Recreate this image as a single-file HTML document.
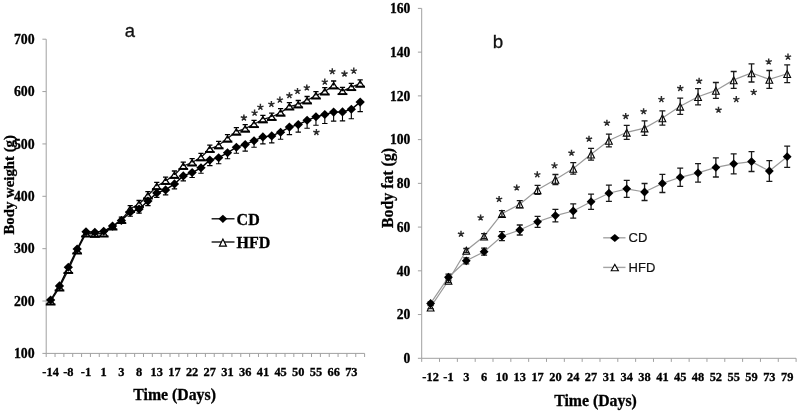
<!DOCTYPE html>
<html><head><meta charset="utf-8"><title>Figure</title>
<style>
html,body{margin:0;padding:0;background:#fff;}
body{width:800px;height:414px;position:relative;overflow:hidden;font-family:"Liberation Sans",sans-serif;}
</style></head><body>
<svg width="800" height="414" viewBox="0 0 800 414" style="position:absolute;left:0;top:0;filter:blur(0.35px)">
<rect width="800" height="414" fill="#fff"/>
<g stroke="#a0a0a0" stroke-width="1" fill="none">
<path d="M46.2 39.2V353.4H364.6"/>
<path d="M42.4 39.2H46.2"/>
<path d="M42.4 91.57H46.2"/>
<path d="M42.4 143.93H46.2"/>
<path d="M42.4 196.3H46.2"/>
<path d="M42.4 248.67H46.2"/>
<path d="M42.4 301.03H46.2"/>
<path d="M42.4 353.4H46.2"/>
<path d="M46.2 353.4V357"/>
<path d="M55.04 353.4V357"/>
<path d="M63.89 353.4V357"/>
<path d="M72.73 353.4V357"/>
<path d="M81.58 353.4V357"/>
<path d="M90.42 353.4V357"/>
<path d="M99.27 353.4V357"/>
<path d="M108.11 353.4V357"/>
<path d="M116.96 353.4V357"/>
<path d="M125.8 353.4V357"/>
<path d="M134.64 353.4V357"/>
<path d="M143.49 353.4V357"/>
<path d="M152.33 353.4V357"/>
<path d="M161.18 353.4V357"/>
<path d="M170.02 353.4V357"/>
<path d="M178.87 353.4V357"/>
<path d="M187.71 353.4V357"/>
<path d="M196.56 353.4V357"/>
<path d="M205.4 353.4V357"/>
<path d="M214.24 353.4V357"/>
<path d="M223.09 353.4V357"/>
<path d="M231.93 353.4V357"/>
<path d="M240.78 353.4V357"/>
<path d="M249.62 353.4V357"/>
<path d="M258.47 353.4V357"/>
<path d="M267.31 353.4V357"/>
<path d="M276.16 353.4V357"/>
<path d="M285 353.4V357"/>
<path d="M293.84 353.4V357"/>
<path d="M302.69 353.4V357"/>
<path d="M311.53 353.4V357"/>
<path d="M320.38 353.4V357"/>
<path d="M329.22 353.4V357"/>
<path d="M338.07 353.4V357"/>
<path d="M346.91 353.4V357"/>
<path d="M355.76 353.4V357"/>
<path d="M364.6 353.4V357"/>
</g>
<g font-family="Liberation Serif, serif" font-weight="bold" fill="#000" stroke="#000" stroke-width="0.3">
<text x="34.6" y="43.9" font-size="13.8" text-anchor="end">700</text>
<text x="34.6" y="96.27" font-size="13.8" text-anchor="end">600</text>
<text x="34.6" y="148.63" font-size="13.8" text-anchor="end">500</text>
<text x="34.6" y="201" font-size="13.8" text-anchor="end">400</text>
<text x="34.6" y="253.37" font-size="13.8" text-anchor="end">300</text>
<text x="34.6" y="305.73" font-size="13.8" text-anchor="end">200</text>
<text x="34.6" y="358.1" font-size="13.8" text-anchor="end">100</text>
<text x="50.62" y="376" font-size="12.4" text-anchor="middle">-14</text>
<text x="68.31" y="376" font-size="12.4" text-anchor="middle">-8</text>
<text x="86" y="376" font-size="12.4" text-anchor="middle">-1</text>
<text x="103.69" y="376" font-size="12.4" text-anchor="middle">1</text>
<text x="121.38" y="376" font-size="12.4" text-anchor="middle">3</text>
<text x="139.07" y="376" font-size="12.4" text-anchor="middle">8</text>
<text x="156.76" y="376" font-size="12.4" text-anchor="middle">13</text>
<text x="174.44" y="376" font-size="12.4" text-anchor="middle">17</text>
<text x="192.13" y="376" font-size="12.4" text-anchor="middle">22</text>
<text x="209.82" y="376" font-size="12.4" text-anchor="middle">27</text>
<text x="227.51" y="376" font-size="12.4" text-anchor="middle">31</text>
<text x="245.2" y="376" font-size="12.4" text-anchor="middle">36</text>
<text x="262.89" y="376" font-size="12.4" text-anchor="middle">41</text>
<text x="280.58" y="376" font-size="12.4" text-anchor="middle">45</text>
<text x="298.27" y="376" font-size="12.4" text-anchor="middle">50</text>
<text x="315.96" y="376" font-size="12.4" text-anchor="middle">55</text>
<text x="333.64" y="376" font-size="12.4" text-anchor="middle">66</text>
<text x="351.33" y="376" font-size="12.4" text-anchor="middle">73</text>
<text x="174.6" y="400.2" font-size="15.8" text-anchor="middle">Time (Days)</text>
<text transform="translate(13.9 184.8) rotate(-90)" font-size="14.8" text-anchor="middle">Body weight (g)</text>
</g>
<text x="129.9" y="37.2" font-family="Liberation Sans, sans-serif" font-size="18.4" text-anchor="middle" fill="#111" stroke="#111" stroke-width="0.3">a</text>
<polyline points="50.62,301.5 59.47,287.5 68.31,270 77.16,250.5 86,233.5 94.84,233.8 103.69,233.5 112.53,226.5 121.38,220 130.22,209 139.07,203.9 147.91,195.5 156.76,186.2 165.6,181 174.44,174.9 183.29,166 192.13,162.5 200.98,157.3 209.82,149 218.67,145.3 227.51,138.6 236.36,131.6 245.2,128.6 254.04,124.2 262.89,119.3 271.73,117 280.58,112.6 289.42,106.5 298.27,104.4 307.11,100.4 315.96,95.5 324.8,91.5 333.64,85.4 342.49,91.2 351.33,87.2 360.18,83.7" fill="none" stroke="#111" stroke-width="1.3"/>
<path d="M46.72 304.7L50.62 298.8L54.52 304.7Z" fill="#fff" stroke="#000" stroke-width="1.3" stroke-linejoin="miter"/><path d="M45.82 304.4H55.42" stroke="#000" stroke-width="1.9" fill="none"/>
<path d="M55.57 290.7L59.47 284.8L63.37 290.7Z" fill="#fff" stroke="#000" stroke-width="1.3" stroke-linejoin="miter"/><path d="M54.67 290.4H64.27" stroke="#000" stroke-width="1.9" fill="none"/>
<path d="M64.41 273.2L68.31 267.3L72.21 273.2Z" fill="#fff" stroke="#000" stroke-width="1.3" stroke-linejoin="miter"/><path d="M63.51 272.9H73.11" stroke="#000" stroke-width="1.9" fill="none"/>
<path d="M73.26 253.7L77.16 247.8L81.06 253.7Z" fill="#fff" stroke="#000" stroke-width="1.3" stroke-linejoin="miter"/><path d="M72.36 253.4H81.96" stroke="#000" stroke-width="1.9" fill="none"/>
<path d="M82.1 236.7L86 230.8L89.9 236.7Z" fill="#fff" stroke="#000" stroke-width="1.3" stroke-linejoin="miter"/><path d="M81.2 236.4H90.8" stroke="#000" stroke-width="1.9" fill="none"/>
<path d="M90.94 237L94.84 231.1L98.74 237Z" fill="#fff" stroke="#000" stroke-width="1.3" stroke-linejoin="miter"/><path d="M90.04 236.7H99.64" stroke="#000" stroke-width="1.9" fill="none"/>
<path d="M99.79 236.7L103.69 230.8L107.59 236.7Z" fill="#fff" stroke="#000" stroke-width="1.3" stroke-linejoin="miter"/><path d="M98.89 236.4H108.49" stroke="#000" stroke-width="1.9" fill="none"/>
<path d="M108.63 229.7L112.53 223.8L116.43 229.7Z" fill="#fff" stroke="#000" stroke-width="1.3" stroke-linejoin="miter"/><path d="M107.73 229.4H117.33" stroke="#000" stroke-width="1.9" fill="none"/>
<path d="M117.48 223.2L121.38 217.3L125.28 223.2Z" fill="#fff" stroke="#000" stroke-width="1.3" stroke-linejoin="miter"/><path d="M116.58 222.9H126.18" stroke="#000" stroke-width="1.9" fill="none"/>
<path d="M126.32 212.2L130.22 206.3L134.12 212.2Z" fill="#fff" stroke="#000" stroke-width="1.3" stroke-linejoin="miter"/><path d="M125.42 211.9H135.02" stroke="#000" stroke-width="1.9" fill="none"/>
<path d="M135.17 207.1L139.07 201.2L142.97 207.1Z" fill="#fff" stroke="#000" stroke-width="1.3" stroke-linejoin="miter"/><path d="M134.27 206.8H143.87" stroke="#000" stroke-width="1.9" fill="none"/>
<path d="M144.01 198.7L147.91 192.8L151.81 198.7Z" fill="#fff" stroke="#000" stroke-width="1.3" stroke-linejoin="miter"/><path d="M143.11 198.4H152.71" stroke="#000" stroke-width="1.9" fill="none"/>
<path d="M152.86 189.4L156.76 183.5L160.66 189.4Z" fill="#fff" stroke="#000" stroke-width="1.3" stroke-linejoin="miter"/><path d="M151.96 189.1H161.56" stroke="#000" stroke-width="1.9" fill="none"/>
<path d="M161.7 184.2L165.6 178.3L169.5 184.2Z" fill="#fff" stroke="#000" stroke-width="1.3" stroke-linejoin="miter"/><path d="M160.8 183.9H170.4" stroke="#000" stroke-width="1.9" fill="none"/>
<path d="M170.54 178.1L174.44 172.2L178.34 178.1Z" fill="#fff" stroke="#000" stroke-width="1.3" stroke-linejoin="miter"/><path d="M169.64 177.8H179.24" stroke="#000" stroke-width="1.9" fill="none"/>
<path d="M179.39 169.2L183.29 163.3L187.19 169.2Z" fill="#fff" stroke="#000" stroke-width="1.3" stroke-linejoin="miter"/><path d="M178.49 168.9H188.09" stroke="#000" stroke-width="1.9" fill="none"/>
<path d="M188.23 165.7L192.13 159.8L196.03 165.7Z" fill="#fff" stroke="#000" stroke-width="1.3" stroke-linejoin="miter"/><path d="M187.33 165.4H196.93" stroke="#000" stroke-width="1.9" fill="none"/>
<path d="M197.08 160.5L200.98 154.6L204.88 160.5Z" fill="#fff" stroke="#000" stroke-width="1.3" stroke-linejoin="miter"/><path d="M196.18 160.2H205.78" stroke="#000" stroke-width="1.9" fill="none"/>
<path d="M205.92 152.2L209.82 146.3L213.72 152.2Z" fill="#fff" stroke="#000" stroke-width="1.3" stroke-linejoin="miter"/><path d="M205.02 151.9H214.62" stroke="#000" stroke-width="1.9" fill="none"/>
<path d="M214.77 148.5L218.67 142.6L222.57 148.5Z" fill="#fff" stroke="#000" stroke-width="1.3" stroke-linejoin="miter"/><path d="M213.87 148.2H223.47" stroke="#000" stroke-width="1.9" fill="none"/>
<path d="M223.61 141.8L227.51 135.9L231.41 141.8Z" fill="#fff" stroke="#000" stroke-width="1.3" stroke-linejoin="miter"/><path d="M222.71 141.5H232.31" stroke="#000" stroke-width="1.9" fill="none"/>
<path d="M232.46 134.8L236.36 128.9L240.26 134.8Z" fill="#fff" stroke="#000" stroke-width="1.3" stroke-linejoin="miter"/><path d="M231.56 134.5H241.16" stroke="#000" stroke-width="1.9" fill="none"/>
<path d="M241.3 131.8L245.2 125.9L249.1 131.8Z" fill="#fff" stroke="#000" stroke-width="1.3" stroke-linejoin="miter"/><path d="M240.4 131.5H250" stroke="#000" stroke-width="1.9" fill="none"/>
<path d="M250.14 127.4L254.04 121.5L257.94 127.4Z" fill="#fff" stroke="#000" stroke-width="1.3" stroke-linejoin="miter"/><path d="M249.24 127.1H258.84" stroke="#000" stroke-width="1.9" fill="none"/>
<path d="M258.99 122.5L262.89 116.6L266.79 122.5Z" fill="#fff" stroke="#000" stroke-width="1.3" stroke-linejoin="miter"/><path d="M258.09 122.2H267.69" stroke="#000" stroke-width="1.9" fill="none"/>
<path d="M267.83 120.2L271.73 114.3L275.63 120.2Z" fill="#fff" stroke="#000" stroke-width="1.3" stroke-linejoin="miter"/><path d="M266.93 119.9H276.53" stroke="#000" stroke-width="1.9" fill="none"/>
<path d="M276.68 115.8L280.58 109.9L284.48 115.8Z" fill="#fff" stroke="#000" stroke-width="1.3" stroke-linejoin="miter"/><path d="M275.78 115.5H285.38" stroke="#000" stroke-width="1.9" fill="none"/>
<path d="M285.52 109.7L289.42 103.8L293.32 109.7Z" fill="#fff" stroke="#000" stroke-width="1.3" stroke-linejoin="miter"/><path d="M284.62 109.4H294.22" stroke="#000" stroke-width="1.9" fill="none"/>
<path d="M294.37 107.6L298.27 101.7L302.17 107.6Z" fill="#fff" stroke="#000" stroke-width="1.3" stroke-linejoin="miter"/><path d="M293.47 107.3H303.07" stroke="#000" stroke-width="1.9" fill="none"/>
<path d="M303.21 103.6L307.11 97.7L311.01 103.6Z" fill="#fff" stroke="#000" stroke-width="1.3" stroke-linejoin="miter"/><path d="M302.31 103.3H311.91" stroke="#000" stroke-width="1.9" fill="none"/>
<path d="M312.06 98.7L315.96 92.8L319.86 98.7Z" fill="#fff" stroke="#000" stroke-width="1.3" stroke-linejoin="miter"/><path d="M311.16 98.4H320.76" stroke="#000" stroke-width="1.9" fill="none"/>
<path d="M320.9 94.7L324.8 88.8L328.7 94.7Z" fill="#fff" stroke="#000" stroke-width="1.3" stroke-linejoin="miter"/><path d="M320 94.4H329.6" stroke="#000" stroke-width="1.9" fill="none"/>
<path d="M329.74 88.6L333.64 82.7L337.54 88.6Z" fill="#fff" stroke="#000" stroke-width="1.3" stroke-linejoin="miter"/><path d="M328.84 88.3H338.44" stroke="#000" stroke-width="1.9" fill="none"/>
<path d="M338.59 94.4L342.49 88.5L346.39 94.4Z" fill="#fff" stroke="#000" stroke-width="1.3" stroke-linejoin="miter"/><path d="M337.69 94.1H347.29" stroke="#000" stroke-width="1.9" fill="none"/>
<path d="M347.43 90.4L351.33 84.5L355.23 90.4Z" fill="#fff" stroke="#000" stroke-width="1.3" stroke-linejoin="miter"/><path d="M346.53 90.1H356.13" stroke="#000" stroke-width="1.9" fill="none"/>
<path d="M356.28 86.9L360.18 81L364.08 86.9Z" fill="#fff" stroke="#000" stroke-width="1.3" stroke-linejoin="miter"/><path d="M355.38 86.6H364.98" stroke="#000" stroke-width="1.9" fill="none"/>







<path d="M112.53 224.6V226.5M109.93 224.6H115.13" stroke="#000" stroke-width="1.3" fill="none"/>
<path d="M121.38 217.1V220M118.78 217.1H123.98" stroke="#000" stroke-width="1.3" fill="none"/>
<path d="M130.22 205.6V209M127.62 205.6H132.82" stroke="#000" stroke-width="1.3" fill="none"/>
<path d="M139.07 200.5V203.9M136.47 200.5H141.67" stroke="#000" stroke-width="1.3" fill="none"/>
<path d="M147.91 191.6V195.5M145.31 191.6H150.51" stroke="#000" stroke-width="1.3" fill="none"/>
<path d="M156.76 182.3V186.2M154.16 182.3H159.36" stroke="#000" stroke-width="1.3" fill="none"/>
<path d="M165.6 177.1V181M163 177.1H168.2" stroke="#000" stroke-width="1.3" fill="none"/>
<path d="M174.44 171V174.9M171.84 171H177.04" stroke="#000" stroke-width="1.3" fill="none"/>
<path d="M183.29 162.1V166M180.69 162.1H185.89" stroke="#000" stroke-width="1.3" fill="none"/>
<path d="M192.13 158.6V162.5M189.53 158.6H194.73" stroke="#000" stroke-width="1.3" fill="none"/>
<path d="M200.98 153.4V157.3M198.38 153.4H203.58" stroke="#000" stroke-width="1.3" fill="none"/>
<path d="M209.82 145.1V149M207.22 145.1H212.42" stroke="#000" stroke-width="1.3" fill="none"/>
<path d="M218.67 141.4V145.3M216.07 141.4H221.27" stroke="#000" stroke-width="1.3" fill="none"/>
<path d="M227.51 134.7V138.6M224.91 134.7H230.11" stroke="#000" stroke-width="1.3" fill="none"/>
<path d="M236.36 127.7V131.6M233.76 127.7H238.96" stroke="#000" stroke-width="1.3" fill="none"/>
<path d="M245.2 124.7V128.6M242.6 124.7H247.8" stroke="#000" stroke-width="1.3" fill="none"/>
<path d="M254.04 120.3V124.2M251.44 120.3H256.64" stroke="#000" stroke-width="1.3" fill="none"/>
<path d="M262.89 115.4V119.3M260.29 115.4H265.49" stroke="#000" stroke-width="1.3" fill="none"/>
<path d="M271.73 113.1V117M269.13 113.1H274.33" stroke="#000" stroke-width="1.3" fill="none"/>
<path d="M280.58 108.7V112.6M277.98 108.7H283.18" stroke="#000" stroke-width="1.3" fill="none"/>
<path d="M289.42 102.6V106.5M286.82 102.6H292.02" stroke="#000" stroke-width="1.3" fill="none"/>
<path d="M298.27 100.5V104.4M295.67 100.5H300.87" stroke="#000" stroke-width="1.3" fill="none"/>
<path d="M307.11 96.5V100.4M304.51 96.5H309.71" stroke="#000" stroke-width="1.3" fill="none"/>
<path d="M315.96 91.6V95.5M313.36 91.6H318.56" stroke="#000" stroke-width="1.3" fill="none"/>
<path d="M324.8 87.6V91.5M322.2 87.6H327.4" stroke="#000" stroke-width="1.3" fill="none"/>
<path d="M333.64 81V85.4M331.04 81H336.24" stroke="#000" stroke-width="1.3" fill="none"/>
<path d="M342.49 87.3V91.2M339.89 87.3H345.09" stroke="#000" stroke-width="1.3" fill="none"/>
<path d="M351.33 83.3V87.2M348.73 83.3H353.93" stroke="#000" stroke-width="1.3" fill="none"/>
<path d="M360.18 79.8V83.7M357.58 79.8H362.78" stroke="#000" stroke-width="1.3" fill="none"/>
<polyline points="50.62,300 59.47,285.9 68.31,267.3 77.16,249 86,231.7 94.84,232.2 103.69,231.3 112.53,226.1 121.38,220.5 130.22,212.3 139.07,209.1 147.91,201.1 156.76,192.9 165.6,189.9 174.44,183.9 183.29,175.9 192.13,172.5 200.98,167.8 209.82,160.1 218.67,157.7 227.51,152.8 236.36,147.2 245.2,144.6 254.04,140.7 262.89,136.9 271.73,135.9 280.58,132.2 289.42,127.1 298.27,124.6 307.11,120.3 315.96,116.8 324.8,114.5 333.64,112.1 342.49,111.9 351.33,109.3 360.18,102.1" fill="none" stroke="#000" stroke-width="1.4"/>







<path d="M112.53 226.1V228.1M109.83 228.1H115.23" stroke="#000" stroke-width="1.1" fill="none"/>
<path d="M121.38 220.5V223.5M118.68 223.5H124.08" stroke="#000" stroke-width="1.1" fill="none"/>
<path d="M130.22 212.3V216.3M127.52 216.3H132.92" stroke="#000" stroke-width="1.1" fill="none"/>
<path d="M139.07 209.1V213.1M136.37 213.1H141.77" stroke="#000" stroke-width="1.1" fill="none"/>
<path d="M147.91 201.1V205.6M145.21 205.6H150.61" stroke="#000" stroke-width="1.1" fill="none"/>
<path d="M156.76 192.9V197.4M154.06 197.4H159.46" stroke="#000" stroke-width="1.1" fill="none"/>
<path d="M165.6 189.9V194.9M162.9 194.9H168.3" stroke="#000" stroke-width="1.1" fill="none"/>
<path d="M174.44 183.9V188.9M171.74 188.9H177.14" stroke="#000" stroke-width="1.1" fill="none"/>
<path d="M183.29 175.9V180.9M180.59 180.9H185.99" stroke="#000" stroke-width="1.1" fill="none"/>
<path d="M192.13 172.5V177.5M189.43 177.5H194.83" stroke="#000" stroke-width="1.1" fill="none"/>
<path d="M200.98 167.8V173.3M198.28 173.3H203.68" stroke="#000" stroke-width="1.1" fill="none"/>
<path d="M209.82 160.1V165.6M207.12 165.6H212.52" stroke="#000" stroke-width="1.1" fill="none"/>
<path d="M218.67 157.7V163.7M215.97 163.7H221.37" stroke="#000" stroke-width="1.1" fill="none"/>
<path d="M227.51 152.8V158.8M224.81 158.8H230.21" stroke="#000" stroke-width="1.1" fill="none"/>
<path d="M236.36 147.2V153.2M233.66 153.2H239.06" stroke="#000" stroke-width="1.1" fill="none"/>
<path d="M245.2 144.6V151.1M242.5 151.1H247.9" stroke="#000" stroke-width="1.1" fill="none"/>
<path d="M254.04 140.7V147.2M251.34 147.2H256.74" stroke="#000" stroke-width="1.1" fill="none"/>
<path d="M262.89 136.9V143.9M260.19 143.9H265.59" stroke="#000" stroke-width="1.1" fill="none"/>
<path d="M271.73 135.9V142.9M269.03 142.9H274.43" stroke="#000" stroke-width="1.1" fill="none"/>
<path d="M280.58 132.2V139.2M277.88 139.2H283.28" stroke="#000" stroke-width="1.1" fill="none"/>
<path d="M289.42 127.1V134.6M286.72 134.6H292.12" stroke="#000" stroke-width="1.1" fill="none"/>
<path d="M298.27 124.6V132.1M295.57 132.1H300.97" stroke="#000" stroke-width="1.1" fill="none"/>
<path d="M307.11 120.3V128.3M304.41 128.3H309.81" stroke="#000" stroke-width="1.1" fill="none"/>
<path d="M315.96 116.8V125.3M313.26 125.3H318.66" stroke="#000" stroke-width="1.1" fill="none"/>
<path d="M324.8 114.5V123.5M322.1 123.5H327.5" stroke="#000" stroke-width="1.1" fill="none"/>
<path d="M333.64 112.1V121.1M330.94 121.1H336.34" stroke="#000" stroke-width="1.1" fill="none"/>
<path d="M342.49 111.9V120.9M339.79 120.9H345.19" stroke="#000" stroke-width="1.1" fill="none"/>
<path d="M351.33 109.3V118.8M348.63 118.8H354.03" stroke="#000" stroke-width="1.1" fill="none"/>
<path d="M360.18 102.1V111.6M357.48 111.6H362.88" stroke="#000" stroke-width="1.1" fill="none"/>
<path d="M45.97 300L50.62 295.45L55.27 300L50.62 304.55Z" fill="#000"/>
<path d="M54.82 285.9L59.47 281.35L64.12 285.9L59.47 290.45Z" fill="#000"/>
<path d="M63.66 267.3L68.31 262.75L72.96 267.3L68.31 271.85Z" fill="#000"/>
<path d="M72.51 249L77.16 244.45L81.81 249L77.16 253.55Z" fill="#000"/>
<path d="M81.35 231.7L86 227.15L90.65 231.7L86 236.25Z" fill="#000"/>
<path d="M90.19 232.2L94.84 227.65L99.49 232.2L94.84 236.75Z" fill="#000"/>
<path d="M99.04 231.3L103.69 226.75L108.34 231.3L103.69 235.85Z" fill="#000"/>
<path d="M107.88 226.1L112.53 221.55L117.18 226.1L112.53 230.65Z" fill="#000"/>
<path d="M116.73 220.5L121.38 215.95L126.03 220.5L121.38 225.05Z" fill="#000"/>
<path d="M125.57 212.3L130.22 207.75L134.87 212.3L130.22 216.85Z" fill="#000"/>
<path d="M134.42 209.1L139.07 204.55L143.72 209.1L139.07 213.65Z" fill="#000"/>
<path d="M143.26 201.1L147.91 196.55L152.56 201.1L147.91 205.65Z" fill="#000"/>
<path d="M152.11 192.9L156.76 188.35L161.41 192.9L156.76 197.45Z" fill="#000"/>
<path d="M160.95 189.9L165.6 185.35L170.25 189.9L165.6 194.45Z" fill="#000"/>
<path d="M169.79 183.9L174.44 179.35L179.09 183.9L174.44 188.45Z" fill="#000"/>
<path d="M178.64 175.9L183.29 171.35L187.94 175.9L183.29 180.45Z" fill="#000"/>
<path d="M187.48 172.5L192.13 167.95L196.78 172.5L192.13 177.05Z" fill="#000"/>
<path d="M196.33 167.8L200.98 163.25L205.63 167.8L200.98 172.35Z" fill="#000"/>
<path d="M205.17 160.1L209.82 155.55L214.47 160.1L209.82 164.65Z" fill="#000"/>
<path d="M214.02 157.7L218.67 153.15L223.32 157.7L218.67 162.25Z" fill="#000"/>
<path d="M222.86 152.8L227.51 148.25L232.16 152.8L227.51 157.35Z" fill="#000"/>
<path d="M231.71 147.2L236.36 142.65L241.01 147.2L236.36 151.75Z" fill="#000"/>
<path d="M240.55 144.6L245.2 140.05L249.85 144.6L245.2 149.15Z" fill="#000"/>
<path d="M249.39 140.7L254.04 136.15L258.69 140.7L254.04 145.25Z" fill="#000"/>
<path d="M258.24 136.9L262.89 132.35L267.54 136.9L262.89 141.45Z" fill="#000"/>
<path d="M267.08 135.9L271.73 131.35L276.38 135.9L271.73 140.45Z" fill="#000"/>
<path d="M275.93 132.2L280.58 127.65L285.23 132.2L280.58 136.75Z" fill="#000"/>
<path d="M284.77 127.1L289.42 122.55L294.07 127.1L289.42 131.65Z" fill="#000"/>
<path d="M293.62 124.6L298.27 120.05L302.92 124.6L298.27 129.15Z" fill="#000"/>
<path d="M302.46 120.3L307.11 115.75L311.76 120.3L307.11 124.85Z" fill="#000"/>
<path d="M311.31 116.8L315.96 112.25L320.61 116.8L315.96 121.35Z" fill="#000"/>
<path d="M320.15 114.5L324.8 109.95L329.45 114.5L324.8 119.05Z" fill="#000"/>
<path d="M328.99 112.1L333.64 107.55L338.29 112.1L333.64 116.65Z" fill="#000"/>
<path d="M337.84 111.9L342.49 107.35L347.14 111.9L342.49 116.45Z" fill="#000"/>
<path d="M346.68 109.3L351.33 104.75L355.98 109.3L351.33 113.85Z" fill="#000"/>
<path d="M355.53 102.1L360.18 97.55L364.83 102.1L360.18 106.65Z" fill="#000"/>
<path d="M243.9 117.8L243.9 114.5M243.9 117.8L247.04 116.78M243.9 117.8L245.84 120.47M243.9 117.8L241.96 120.47M243.9 117.8L240.76 116.78" stroke="#2c2c2c" stroke-width="1.45" stroke-linecap="butt" fill="none"/>
<path d="M254.6 112.9L254.6 109.6M254.6 112.9L257.74 111.88M254.6 112.9L256.54 115.57M254.6 112.9L252.66 115.57M254.6 112.9L251.46 111.88" stroke="#2c2c2c" stroke-width="1.45" stroke-linecap="butt" fill="none"/>
<path d="M260.4 107.1L260.4 103.8M260.4 107.1L263.54 106.08M260.4 107.1L262.34 109.77M260.4 107.1L258.46 109.77M260.4 107.1L257.26 106.08" stroke="#2c2c2c" stroke-width="1.45" stroke-linecap="butt" fill="none"/>
<path d="M271.4 104.2L271.4 100.9M271.4 104.2L274.54 103.18M271.4 104.2L273.34 106.87M271.4 104.2L269.46 106.87M271.4 104.2L268.26 103.18" stroke="#2c2c2c" stroke-width="1.45" stroke-linecap="butt" fill="none"/>
<path d="M279.9 99.9L279.9 96.6M279.9 99.9L283.04 98.88M279.9 99.9L281.84 102.57M279.9 99.9L277.96 102.57M279.9 99.9L276.76 98.88" stroke="#2c2c2c" stroke-width="1.45" stroke-linecap="butt" fill="none"/>
<path d="M289.4 95.5L289.4 92.2M289.4 95.5L292.54 94.48M289.4 95.5L291.34 98.17M289.4 95.5L287.46 98.17M289.4 95.5L286.26 94.48" stroke="#2c2c2c" stroke-width="1.45" stroke-linecap="butt" fill="none"/>
<path d="M297.5 91.2L297.5 87.9M297.5 91.2L300.64 90.18M297.5 91.2L299.44 93.87M297.5 91.2L295.56 93.87M297.5 91.2L294.36 90.18" stroke="#2c2c2c" stroke-width="1.45" stroke-linecap="butt" fill="none"/>
<path d="M306.8 87.7L306.8 84.4M306.8 87.7L309.94 86.68M306.8 87.7L308.74 90.37M306.8 87.7L304.86 90.37M306.8 87.7L303.66 86.68" stroke="#2c2c2c" stroke-width="1.45" stroke-linecap="butt" fill="none"/>
<path d="M324.8 81.9L324.8 78.6M324.8 81.9L327.94 80.88M324.8 81.9L326.74 84.57M324.8 81.9L322.86 84.57M324.8 81.9L321.66 80.88" stroke="#2c2c2c" stroke-width="1.45" stroke-linecap="butt" fill="none"/>
<path d="M332.3 71.5L332.3 68.2M332.3 71.5L335.44 70.48M332.3 71.5L334.24 74.17M332.3 71.5L330.36 74.17M332.3 71.5L329.16 70.48" stroke="#2c2c2c" stroke-width="1.45" stroke-linecap="butt" fill="none"/>
<path d="M344.5 73.8L344.5 70.5M344.5 73.8L347.64 72.78M344.5 73.8L346.44 76.47M344.5 73.8L342.56 76.47M344.5 73.8L341.36 72.78" stroke="#2c2c2c" stroke-width="1.45" stroke-linecap="butt" fill="none"/>
<path d="M353.8 70.9L353.8 67.6M353.8 70.9L356.94 69.88M353.8 70.9L355.74 73.57M353.8 70.9L351.86 73.57M353.8 70.9L350.66 69.88" stroke="#2c2c2c" stroke-width="1.45" stroke-linecap="butt" fill="none"/>
<path d="M316.4 132.3L316.4 129M316.4 132.3L319.54 131.28M316.4 132.3L318.34 134.97M316.4 132.3L314.46 134.97M316.4 132.3L313.26 131.28" stroke="#2c2c2c" stroke-width="1.45" stroke-linecap="butt" fill="none"/>
<path d="M211.6 218.8H234.5" stroke="#000" stroke-width="1.3"/>
<path d="M218.5 218.8L222.9 214.7L227.3 218.8L222.9 222.9Z" fill="#000"/>
<path d="M211.6 242H234.5" stroke="#000" stroke-width="1.3"/>
<path d="M219.4 246.2L222.9 239L226.4 246.2Z" fill="#fff" stroke="#000" stroke-width="1.2" stroke-linejoin="miter"/>
<g font-family="Liberation Serif, serif" font-weight="bold" font-size="16" fill="#000" stroke="#000" stroke-width="0.3">
<text x="236.6" y="224.5">CD</text>
<text x="236.6" y="247.6">HFD</text>
</g>
<g stroke="#a0a0a0" stroke-width="1" fill="none">
<path d="M421.7 8.4V358.3H796.1"/>
<path d="M417.9 8.4H421.7"/>
<path d="M417.9 52.14H421.7"/>
<path d="M417.9 95.88H421.7"/>
<path d="M417.9 139.61H421.7"/>
<path d="M417.9 183.35H421.7"/>
<path d="M417.9 227.09H421.7"/>
<path d="M417.9 270.82H421.7"/>
<path d="M417.9 314.56H421.7"/>
<path d="M417.9 358.3H421.7"/>
<path d="M421.7 358.3V361.9"/>
<path d="M439.53 358.3V361.9"/>
<path d="M457.36 358.3V361.9"/>
<path d="M475.19 358.3V361.9"/>
<path d="M493.01 358.3V361.9"/>
<path d="M510.84 358.3V361.9"/>
<path d="M528.67 358.3V361.9"/>
<path d="M546.5 358.3V361.9"/>
<path d="M564.33 358.3V361.9"/>
<path d="M582.16 358.3V361.9"/>
<path d="M599.99 358.3V361.9"/>
<path d="M617.81 358.3V361.9"/>
<path d="M635.64 358.3V361.9"/>
<path d="M653.47 358.3V361.9"/>
<path d="M671.3 358.3V361.9"/>
<path d="M689.13 358.3V361.9"/>
<path d="M706.96 358.3V361.9"/>
<path d="M724.79 358.3V361.9"/>
<path d="M742.61 358.3V361.9"/>
<path d="M760.44 358.3V361.9"/>
<path d="M778.27 358.3V361.9"/>
<path d="M796.1 358.3V361.9"/>
</g>
<g font-family="Liberation Serif, serif" font-weight="bold" fill="#000" stroke="#000" stroke-width="0.3">
<text x="410.4" y="13.1" font-size="13.6" text-anchor="end">160</text>
<text x="410.4" y="56.84" font-size="13.6" text-anchor="end">140</text>
<text x="410.4" y="100.58" font-size="13.6" text-anchor="end">120</text>
<text x="410.4" y="144.31" font-size="13.6" text-anchor="end">100</text>
<text x="410.4" y="188.05" font-size="13.6" text-anchor="end">80</text>
<text x="410.4" y="231.79" font-size="13.6" text-anchor="end">60</text>
<text x="410.4" y="275.52" font-size="13.6" text-anchor="end">40</text>
<text x="410.4" y="319.26" font-size="13.6" text-anchor="end">20</text>
<text x="410.4" y="363" font-size="13.6" text-anchor="end">0</text>
<text x="430.61" y="381.2" font-size="12.4" text-anchor="middle">-12</text>
<text x="448.44" y="381.2" font-size="12.4" text-anchor="middle">-1</text>
<text x="466.27" y="381.2" font-size="12.4" text-anchor="middle">3</text>
<text x="484.1" y="381.2" font-size="12.4" text-anchor="middle">6</text>
<text x="501.93" y="381.2" font-size="12.4" text-anchor="middle">10</text>
<text x="519.76" y="381.2" font-size="12.4" text-anchor="middle">13</text>
<text x="537.59" y="381.2" font-size="12.4" text-anchor="middle">17</text>
<text x="555.41" y="381.2" font-size="12.4" text-anchor="middle">20</text>
<text x="573.24" y="381.2" font-size="12.4" text-anchor="middle">24</text>
<text x="591.07" y="381.2" font-size="12.4" text-anchor="middle">27</text>
<text x="608.9" y="381.2" font-size="12.4" text-anchor="middle">31</text>
<text x="626.73" y="381.2" font-size="12.4" text-anchor="middle">34</text>
<text x="644.56" y="381.2" font-size="12.4" text-anchor="middle">38</text>
<text x="662.39" y="381.2" font-size="12.4" text-anchor="middle">41</text>
<text x="680.21" y="381.2" font-size="12.4" text-anchor="middle">45</text>
<text x="698.04" y="381.2" font-size="12.4" text-anchor="middle">48</text>
<text x="715.87" y="381.2" font-size="12.4" text-anchor="middle">52</text>
<text x="733.7" y="381.2" font-size="12.4" text-anchor="middle">55</text>
<text x="751.53" y="381.2" font-size="12.4" text-anchor="middle">59</text>
<text x="769.36" y="381.2" font-size="12.4" text-anchor="middle">73</text>
<text x="787.19" y="381.2" font-size="12.4" text-anchor="middle">79</text>
<text x="595.5" y="406.4" font-size="15.8" text-anchor="middle">Time (Days)</text>
<text transform="translate(392.9 188) rotate(-90)" font-size="15.8" text-anchor="middle">Body fat (g)</text>
</g>
<text x="498" y="47.6" font-family="Liberation Sans, sans-serif" font-size="18.8" text-anchor="middle" fill="#111" stroke="#111" stroke-width="0.3">b</text>
<polyline points="430.61,307.2 448.44,280.5 466.27,250.5 484.1,236.2 501.93,213.6 519.76,204.2 537.59,189.8 555.41,179.5 573.24,168.4 591.07,154.2 608.9,140.5 626.73,132.3 644.56,128.1 662.39,118 680.21,106.3 698.04,96.7 715.87,90.4 733.7,79.9 751.53,72.9 769.36,79.4 787.19,73.7" fill="none" stroke="#9a9a9a" stroke-width="1.2"/>
<polyline points="430.61,303.4 448.44,277.2 466.27,260.8 484.1,251.7 501.93,236.2 519.76,230 537.59,221.8 555.41,215.6 573.24,211 591.07,201.7 608.9,193.2 626.73,188.8 644.56,192 662.39,183.4 680.21,177.3 698.04,172.9 715.87,167.4 733.7,163.8 751.53,161.6 769.36,171 787.19,156.7" fill="none" stroke="#9a9a9a" stroke-width="1.2"/>
<path d="M427.21 311L430.61 304.05L434.01 311Z" fill="#fff" stroke="#000" stroke-width="1.1" stroke-linejoin="miter"/>
<path d="M445.04 284.3L448.44 277.35L451.84 284.3Z" fill="#fff" stroke="#000" stroke-width="1.1" stroke-linejoin="miter"/>
<path d="M462.87 254.3L466.27 247.35L469.67 254.3Z" fill="#fff" stroke="#000" stroke-width="1.1" stroke-linejoin="miter"/>
<path d="M480.7 240L484.1 233.05L487.5 240Z" fill="#fff" stroke="#000" stroke-width="1.1" stroke-linejoin="miter"/>
<path d="M498.53 217.4L501.93 210.45L505.33 217.4Z" fill="#fff" stroke="#000" stroke-width="1.1" stroke-linejoin="miter"/>
<path d="M516.36 208L519.76 201.05L523.16 208Z" fill="#fff" stroke="#000" stroke-width="1.1" stroke-linejoin="miter"/>
<path d="M534.19 193.6L537.59 186.65L540.99 193.6Z" fill="#fff" stroke="#000" stroke-width="1.1" stroke-linejoin="miter"/>
<path d="M552.01 183.3L555.41 176.35L558.81 183.3Z" fill="#fff" stroke="#000" stroke-width="1.1" stroke-linejoin="miter"/>
<path d="M569.84 172.2L573.24 165.25L576.64 172.2Z" fill="#fff" stroke="#000" stroke-width="1.1" stroke-linejoin="miter"/>
<path d="M587.67 158L591.07 151.05L594.47 158Z" fill="#fff" stroke="#000" stroke-width="1.1" stroke-linejoin="miter"/>
<path d="M605.5 144.3L608.9 137.35L612.3 144.3Z" fill="#fff" stroke="#000" stroke-width="1.1" stroke-linejoin="miter"/>
<path d="M623.33 136.1L626.73 129.15L630.13 136.1Z" fill="#fff" stroke="#000" stroke-width="1.1" stroke-linejoin="miter"/>
<path d="M641.16 131.9L644.56 124.95L647.96 131.9Z" fill="#fff" stroke="#000" stroke-width="1.1" stroke-linejoin="miter"/>
<path d="M658.99 121.8L662.39 114.85L665.79 121.8Z" fill="#fff" stroke="#000" stroke-width="1.1" stroke-linejoin="miter"/>
<path d="M676.81 110.1L680.21 103.15L683.61 110.1Z" fill="#fff" stroke="#000" stroke-width="1.1" stroke-linejoin="miter"/>
<path d="M694.64 100.5L698.04 93.55L701.44 100.5Z" fill="#fff" stroke="#000" stroke-width="1.1" stroke-linejoin="miter"/>
<path d="M712.47 94.2L715.87 87.25L719.27 94.2Z" fill="#fff" stroke="#000" stroke-width="1.1" stroke-linejoin="miter"/>
<path d="M730.3 83.7L733.7 76.75L737.1 83.7Z" fill="#fff" stroke="#000" stroke-width="1.1" stroke-linejoin="miter"/>
<path d="M748.13 76.7L751.53 69.75L754.93 76.7Z" fill="#fff" stroke="#000" stroke-width="1.1" stroke-linejoin="miter"/>
<path d="M765.96 83.2L769.36 76.25L772.76 83.2Z" fill="#fff" stroke="#000" stroke-width="1.1" stroke-linejoin="miter"/>
<path d="M783.79 77.5L787.19 70.55L790.59 77.5Z" fill="#fff" stroke="#000" stroke-width="1.1" stroke-linejoin="miter"/>
<path d="M430.61 305.7V308.7M427.61 305.7H433.61M427.61 308.7H433.61" stroke="#1a1a1a" stroke-width="1.3" fill="none"/>
<path d="M448.44 278.5V282.5M445.44 278.5H451.44M445.44 282.5H451.44" stroke="#1a1a1a" stroke-width="1.3" fill="none"/>
<path d="M466.27 248.5V252.5M463.27 248.5H469.27M463.27 252.5H469.27" stroke="#1a1a1a" stroke-width="1.3" fill="none"/>
<path d="M484.1 233.7V238.7M481.1 233.7H487.1M481.1 238.7H487.1" stroke="#1a1a1a" stroke-width="1.3" fill="none"/>
<path d="M501.93 210.6V216.6M498.93 210.6H504.93M498.93 216.6H504.93" stroke="#1a1a1a" stroke-width="1.3" fill="none"/>
<path d="M519.76 200.7V207.7M516.76 200.7H522.76M516.76 207.7H522.76" stroke="#1a1a1a" stroke-width="1.3" fill="none"/>
<path d="M537.59 185.3V194.3M534.59 185.3H540.59M534.59 194.3H540.59" stroke="#1a1a1a" stroke-width="1.3" fill="none"/>
<path d="M555.41 174.5V184.5M552.41 174.5H558.41M552.41 184.5H558.41" stroke="#1a1a1a" stroke-width="1.3" fill="none"/>
<path d="M573.24 162.6V174.2M570.24 162.6H576.24M570.24 174.2H576.24" stroke="#1a1a1a" stroke-width="1.3" fill="none"/>
<path d="M591.07 148.3V160.1M588.07 148.3H594.07M588.07 160.1H594.07" stroke="#1a1a1a" stroke-width="1.3" fill="none"/>
<path d="M608.9 134.2V146.8M605.9 134.2H611.9M605.9 146.8H611.9" stroke="#1a1a1a" stroke-width="1.3" fill="none"/>
<path d="M626.73 125.3V139.3M623.73 125.3H629.73M623.73 139.3H629.73" stroke="#1a1a1a" stroke-width="1.3" fill="none"/>
<path d="M644.56 120.9V135.3M641.56 120.9H647.56M641.56 135.3H647.56" stroke="#1a1a1a" stroke-width="1.3" fill="none"/>
<path d="M662.39 110.8V125.2M659.39 110.8H665.39M659.39 125.2H665.39" stroke="#1a1a1a" stroke-width="1.3" fill="none"/>
<path d="M680.21 98.2V114.4M677.21 98.2H683.21M677.21 114.4H683.21" stroke="#1a1a1a" stroke-width="1.3" fill="none"/>
<path d="M698.04 88.6V104.8M695.04 88.6H701.04M695.04 104.8H701.04" stroke="#1a1a1a" stroke-width="1.3" fill="none"/>
<path d="M715.87 82.5V98.3M712.87 82.5H718.87M712.87 98.3H718.87" stroke="#1a1a1a" stroke-width="1.3" fill="none"/>
<path d="M733.7 71.5V88.3M730.7 71.5H736.7M730.7 88.3H736.7" stroke="#1a1a1a" stroke-width="1.3" fill="none"/>
<path d="M751.53 63.8V82M748.53 63.8H754.53M748.53 82H754.53" stroke="#1a1a1a" stroke-width="1.3" fill="none"/>
<path d="M769.36 70.5V88.3M766.36 70.5H772.36M766.36 88.3H772.36" stroke="#1a1a1a" stroke-width="1.3" fill="none"/>
<path d="M787.19 64.8V82.6M784.19 64.8H790.19M784.19 82.6H790.19" stroke="#1a1a1a" stroke-width="1.3" fill="none"/>
<path d="M430.61 301.9V304.9M427.61 301.9H433.61M427.61 304.9H433.61" stroke="#1a1a1a" stroke-width="1.3" fill="none"/>
<path d="M448.44 274.2V280.2M445.44 274.2H451.44M445.44 280.2H451.44" stroke="#1a1a1a" stroke-width="1.3" fill="none"/>
<path d="M466.27 257.8V263.8M463.27 257.8H469.27M463.27 263.8H469.27" stroke="#1a1a1a" stroke-width="1.3" fill="none"/>
<path d="M484.1 248.2V255.2M481.1 248.2H487.1M481.1 255.2H487.1" stroke="#1a1a1a" stroke-width="1.3" fill="none"/>
<path d="M501.93 231.7V240.7M498.93 231.7H504.93M498.93 240.7H504.93" stroke="#1a1a1a" stroke-width="1.3" fill="none"/>
<path d="M519.76 225V235M516.76 225H522.76M516.76 235H522.76" stroke="#1a1a1a" stroke-width="1.3" fill="none"/>
<path d="M537.59 216.3V227.3M534.59 216.3H540.59M534.59 227.3H540.59" stroke="#1a1a1a" stroke-width="1.3" fill="none"/>
<path d="M555.41 209.3V221.9M552.41 209.3H558.41M552.41 221.9H558.41" stroke="#1a1a1a" stroke-width="1.3" fill="none"/>
<path d="M573.24 203.8V218.2M570.24 203.8H576.24M570.24 218.2H576.24" stroke="#1a1a1a" stroke-width="1.3" fill="none"/>
<path d="M591.07 194.1V209.3M588.07 194.1H594.07M588.07 209.3H594.07" stroke="#1a1a1a" stroke-width="1.3" fill="none"/>
<path d="M608.9 185.1V201.3M605.9 185.1H611.9M605.9 201.3H611.9" stroke="#1a1a1a" stroke-width="1.3" fill="none"/>
<path d="M626.73 180.3V197.3M623.73 180.3H629.73M623.73 197.3H629.73" stroke="#1a1a1a" stroke-width="1.3" fill="none"/>
<path d="M644.56 183.5V200.5M641.56 183.5H647.56M641.56 200.5H647.56" stroke="#1a1a1a" stroke-width="1.3" fill="none"/>
<path d="M662.39 174.3V192.5M659.39 174.3H665.39M659.39 192.5H665.39" stroke="#1a1a1a" stroke-width="1.3" fill="none"/>
<path d="M680.21 168.2V186.4M677.21 168.2H683.21M677.21 186.4H683.21" stroke="#1a1a1a" stroke-width="1.3" fill="none"/>
<path d="M698.04 163.7V182.1M695.04 163.7H701.04M695.04 182.1H701.04" stroke="#1a1a1a" stroke-width="1.3" fill="none"/>
<path d="M715.87 157.8V177M712.87 157.8H718.87M712.87 177H718.87" stroke="#1a1a1a" stroke-width="1.3" fill="none"/>
<path d="M733.7 153.8V173.8M730.7 153.8H736.7M730.7 173.8H736.7" stroke="#1a1a1a" stroke-width="1.3" fill="none"/>
<path d="M751.53 151.7V171.5M748.53 151.7H754.53M748.53 171.5H754.53" stroke="#1a1a1a" stroke-width="1.3" fill="none"/>
<path d="M769.36 160.7V181.3M766.36 160.7H772.36M766.36 181.3H772.36" stroke="#1a1a1a" stroke-width="1.3" fill="none"/>
<path d="M787.19 146.1V167.3M784.19 146.1H790.19M784.19 167.3H790.19" stroke="#1a1a1a" stroke-width="1.3" fill="none"/>
<path d="M426.21 303.4L430.61 299L435.01 303.4L430.61 307.8Z" fill="#000"/>
<path d="M444.04 277.2L448.44 272.8L452.84 277.2L448.44 281.6Z" fill="#000"/>
<path d="M461.87 260.8L466.27 256.4L470.67 260.8L466.27 265.2Z" fill="#000"/>
<path d="M479.7 251.7L484.1 247.3L488.5 251.7L484.1 256.1Z" fill="#000"/>
<path d="M497.53 236.2L501.93 231.8L506.33 236.2L501.93 240.6Z" fill="#000"/>
<path d="M515.36 230L519.76 225.6L524.16 230L519.76 234.4Z" fill="#000"/>
<path d="M533.19 221.8L537.59 217.4L541.99 221.8L537.59 226.2Z" fill="#000"/>
<path d="M551.01 215.6L555.41 211.2L559.81 215.6L555.41 220Z" fill="#000"/>
<path d="M568.84 211L573.24 206.6L577.64 211L573.24 215.4Z" fill="#000"/>
<path d="M586.67 201.7L591.07 197.3L595.47 201.7L591.07 206.1Z" fill="#000"/>
<path d="M604.5 193.2L608.9 188.8L613.3 193.2L608.9 197.6Z" fill="#000"/>
<path d="M622.33 188.8L626.73 184.4L631.13 188.8L626.73 193.2Z" fill="#000"/>
<path d="M640.16 192L644.56 187.6L648.96 192L644.56 196.4Z" fill="#000"/>
<path d="M657.99 183.4L662.39 179L666.79 183.4L662.39 187.8Z" fill="#000"/>
<path d="M675.81 177.3L680.21 172.9L684.61 177.3L680.21 181.7Z" fill="#000"/>
<path d="M693.64 172.9L698.04 168.5L702.44 172.9L698.04 177.3Z" fill="#000"/>
<path d="M711.47 167.4L715.87 163L720.27 167.4L715.87 171.8Z" fill="#000"/>
<path d="M729.3 163.8L733.7 159.4L738.1 163.8L733.7 168.2Z" fill="#000"/>
<path d="M747.13 161.6L751.53 157.2L755.93 161.6L751.53 166Z" fill="#000"/>
<path d="M764.96 171L769.36 166.6L773.76 171L769.36 175.4Z" fill="#000"/>
<path d="M782.79 156.7L787.19 152.3L791.59 156.7L787.19 161.1Z" fill="#000"/>
<path d="M461 234L461 230.7M461 234L464.14 232.98M461 234L462.94 236.67M461 234L459.06 236.67M461 234L457.86 232.98" stroke="#2c2c2c" stroke-width="1.45" stroke-linecap="butt" fill="none"/>
<path d="M480.6 217.7L480.6 214.4M480.6 217.7L483.74 216.68M480.6 217.7L482.54 220.37M480.6 217.7L478.66 220.37M480.6 217.7L477.46 216.68" stroke="#2c2c2c" stroke-width="1.45" stroke-linecap="butt" fill="none"/>
<path d="M499.1 199.2L499.1 195.9M499.1 199.2L502.24 198.18M499.1 199.2L501.04 201.87M499.1 199.2L497.16 201.87M499.1 199.2L495.96 198.18" stroke="#2c2c2c" stroke-width="1.45" stroke-linecap="butt" fill="none"/>
<path d="M516.7 187.7L516.7 184.4M516.7 187.7L519.84 186.68M516.7 187.7L518.64 190.37M516.7 187.7L514.76 190.37M516.7 187.7L513.56 186.68" stroke="#2c2c2c" stroke-width="1.45" stroke-linecap="butt" fill="none"/>
<path d="M537.3 174.6L537.3 171.3M537.3 174.6L540.44 173.58M537.3 174.6L539.24 177.27M537.3 174.6L535.36 177.27M537.3 174.6L534.16 173.58" stroke="#2c2c2c" stroke-width="1.45" stroke-linecap="butt" fill="none"/>
<path d="M554.5 165.6L554.5 162.3M554.5 165.6L557.64 164.58M554.5 165.6L556.44 168.27M554.5 165.6L552.56 168.27M554.5 165.6L551.36 164.58" stroke="#2c2c2c" stroke-width="1.45" stroke-linecap="butt" fill="none"/>
<path d="M571.5 153L571.5 149.7M571.5 153L574.64 151.98M571.5 153L573.44 155.67M571.5 153L569.56 155.67M571.5 153L568.36 151.98" stroke="#2c2c2c" stroke-width="1.45" stroke-linecap="butt" fill="none"/>
<path d="M589 139L589 135.7M589 139L592.14 137.98M589 139L590.94 141.67M589 139L587.06 141.67M589 139L585.86 137.98" stroke="#2c2c2c" stroke-width="1.45" stroke-linecap="butt" fill="none"/>
<path d="M606.9 123L606.9 119.7M606.9 123L610.04 121.98M606.9 123L608.84 125.67M606.9 123L604.96 125.67M606.9 123L603.76 121.98" stroke="#2c2c2c" stroke-width="1.45" stroke-linecap="butt" fill="none"/>
<path d="M625.7 116.3L625.7 113M625.7 116.3L628.84 115.28M625.7 116.3L627.64 118.97M625.7 116.3L623.76 118.97M625.7 116.3L622.56 115.28" stroke="#2c2c2c" stroke-width="1.45" stroke-linecap="butt" fill="none"/>
<path d="M643.6 111.5L643.6 108.2M643.6 111.5L646.74 110.48M643.6 111.5L645.54 114.17M643.6 111.5L641.66 114.17M643.6 111.5L640.46 110.48" stroke="#2c2c2c" stroke-width="1.45" stroke-linecap="butt" fill="none"/>
<path d="M661.4 99.4L661.4 96.1M661.4 99.4L664.54 98.38M661.4 99.4L663.34 102.07M661.4 99.4L659.46 102.07M661.4 99.4L658.26 98.38" stroke="#2c2c2c" stroke-width="1.45" stroke-linecap="butt" fill="none"/>
<path d="M680.3 88.3L680.3 85M680.3 88.3L683.44 87.28M680.3 88.3L682.24 90.97M680.3 88.3L678.36 90.97M680.3 88.3L677.16 87.28" stroke="#2c2c2c" stroke-width="1.45" stroke-linecap="butt" fill="none"/>
<path d="M699.1 81L699.1 77.7M699.1 81L702.24 79.98M699.1 81L701.04 83.67M699.1 81L697.16 83.67M699.1 81L695.96 79.98" stroke="#2c2c2c" stroke-width="1.45" stroke-linecap="butt" fill="none"/>
<path d="M768.7 61.7L768.7 58.4M768.7 61.7L771.84 60.68M768.7 61.7L770.64 64.37M768.7 61.7L766.76 64.37M768.7 61.7L765.56 60.68" stroke="#2c2c2c" stroke-width="1.45" stroke-linecap="butt" fill="none"/>
<path d="M788 56.9L788 53.6M788 56.9L791.14 55.88M788 56.9L789.94 59.57M788 56.9L786.06 59.57M788 56.9L784.86 55.88" stroke="#2c2c2c" stroke-width="1.45" stroke-linecap="butt" fill="none"/>
<path d="M718.5 110L718.5 106.7M718.5 110L721.64 108.98M718.5 110L720.44 112.67M718.5 110L716.56 112.67M718.5 110L715.36 108.98" stroke="#2c2c2c" stroke-width="1.45" stroke-linecap="butt" fill="none"/>
<path d="M736.3 99.4L736.3 96.1M736.3 99.4L739.44 98.38M736.3 99.4L738.24 102.07M736.3 99.4L734.36 102.07M736.3 99.4L733.16 98.38" stroke="#2c2c2c" stroke-width="1.45" stroke-linecap="butt" fill="none"/>
<path d="M753.7 92.2L753.7 88.9M753.7 92.2L756.84 91.18M753.7 92.2L755.64 94.87M753.7 92.2L751.76 94.87M753.7 92.2L750.56 91.18" stroke="#2c2c2c" stroke-width="1.45" stroke-linecap="butt" fill="none"/>
<path d="M603.2 237.8H625.5" stroke="#a4a4a4" stroke-width="1.4"/>
<path d="M610.1 237.9L614.8 233.9L619.5 237.9L614.8 241.9Z" fill="#000"/>
<path d="M603.2 267.4H625.5" stroke="#a4a4a4" stroke-width="1.4"/>
<path d="M611.2 270.8L614.8 264.4L618.4 270.8Z" fill="#fff" stroke="#000" stroke-width="1.1" stroke-linejoin="miter"/>
<g font-family="Liberation Sans, sans-serif" font-size="13" fill="#111" stroke="#111" stroke-width="0.2">
<text x="628.6" y="242.4">CD</text>
<text x="628.6" y="271.8">HFD</text>
</g>
</svg>
</body></html>
